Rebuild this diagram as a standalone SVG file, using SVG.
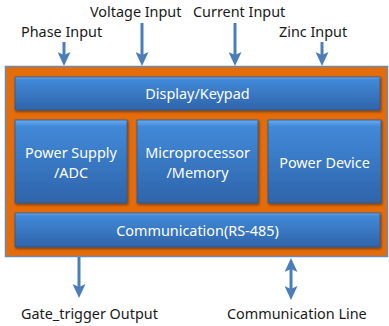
<svg xmlns="http://www.w3.org/2000/svg" width="389" height="326" viewBox="0 0 389 326">
<defs>
<linearGradient id="bg" x1="0" y1="0" x2="0" y2="1">
<stop offset="0" stop-color="#68AAEE"/>
<stop offset="0.08" stop-color="#4189D8"/>
<stop offset="1" stop-color="#2F64AA"/>
</linearGradient>
<filter id="sh" x="-10%" y="-10%" width="120%" height="130%">
<feDropShadow dx="1" dy="1.5" stdDeviation="1" flood-color="#000" flood-opacity="0.45"/>
</filter>
<marker id="ah" viewBox="0 0 15 13" refX="8" refY="6.5" markerWidth="15" markerHeight="13" markerUnits="userSpaceOnUse" orient="auto-start-reverse">
<path d="M1,0 L15,6.5 L1,13 L4,6.5 Z" fill="#4A7EBB"/>
</marker>
</defs>
<style>
.box{fill:url(#bg);stroke:#2A5A96;stroke-width:0.8;filter:url(#sh)}
.in{font-family:"Noto Sans","Open Sans",sans-serif;font-size:14.4px;fill:#FFFFFF;text-anchor:middle}
.lbl{font-family:"Noto Sans","Open Sans",sans-serif;font-size:14.4px;fill:#1A1A1A}
.ar{stroke:#4A7EBB;stroke-width:3;fill:none}
</style>
<rect width="389" height="326" fill="#FFFFFF"/>
<g id="frame">
<rect x="5.5" y="66.5" width="382" height="190" fill="#E46C0A" stroke="#6A8AB0" stroke-width="1.5"/>
</g>
<g id="display">
<rect class="box" x="15" y="77" width="365" height="33"/>
<text class="in" x="197.5" y="99">Display/Keypad</text>
</g>
<g id="power-supply">
<rect class="box" x="15" y="120" width="112" height="83"/>
<text class="in" x="71" y="158">Power Supply</text>
<text class="in" x="71" y="178">/ADC</text>
</g>
<g id="microprocessor">
<rect class="box" x="137" y="120" width="121" height="83"/>
<text class="in" x="197.5" y="158">Microprocessor</text>
<text class="in" x="197.5" y="178">/Memory</text>
</g>
<g id="power-device">
<rect class="box" x="268" y="120" width="113" height="83"/>
<text class="in" x="324.5" y="168">Power Device</text>
</g>
<g id="communication">
<rect class="box" x="15" y="213" width="365" height="34"/>
<text class="in" x="197.5" y="236">Communication(RS-485)</text>
</g>
<g id="labels">
<text class="lbl" x="21" y="37">Phase Input</text>
<text class="lbl" x="90" y="17">Voltage Input</text>
<text class="lbl" x="193" y="17">Current Input</text>
<text class="lbl" x="279" y="37">Zinc Input</text>
<text class="lbl" x="21" y="319">Gate_trigger Output</text>
<text class="lbl" x="227" y="319">Communication Line</text>
</g>
<g id="connectors">
<line class="ar" x1="64" y1="42" x2="64" y2="59" marker-end="url(#ah)"/>
<line class="ar" x1="142" y1="23" x2="142" y2="59" marker-end="url(#ah)"/>
<line class="ar" x1="235" y1="23" x2="235" y2="59" marker-end="url(#ah)"/>
<line class="ar" x1="322" y1="42" x2="322" y2="59" marker-end="url(#ah)"/>
<line class="ar" x1="79" y1="257" x2="79" y2="291" marker-end="url(#ah)"/>
<line class="ar" x1="291" y1="265" x2="291" y2="293" marker-start="url(#ah)" marker-end="url(#ah)"/>
</g>
</svg>
